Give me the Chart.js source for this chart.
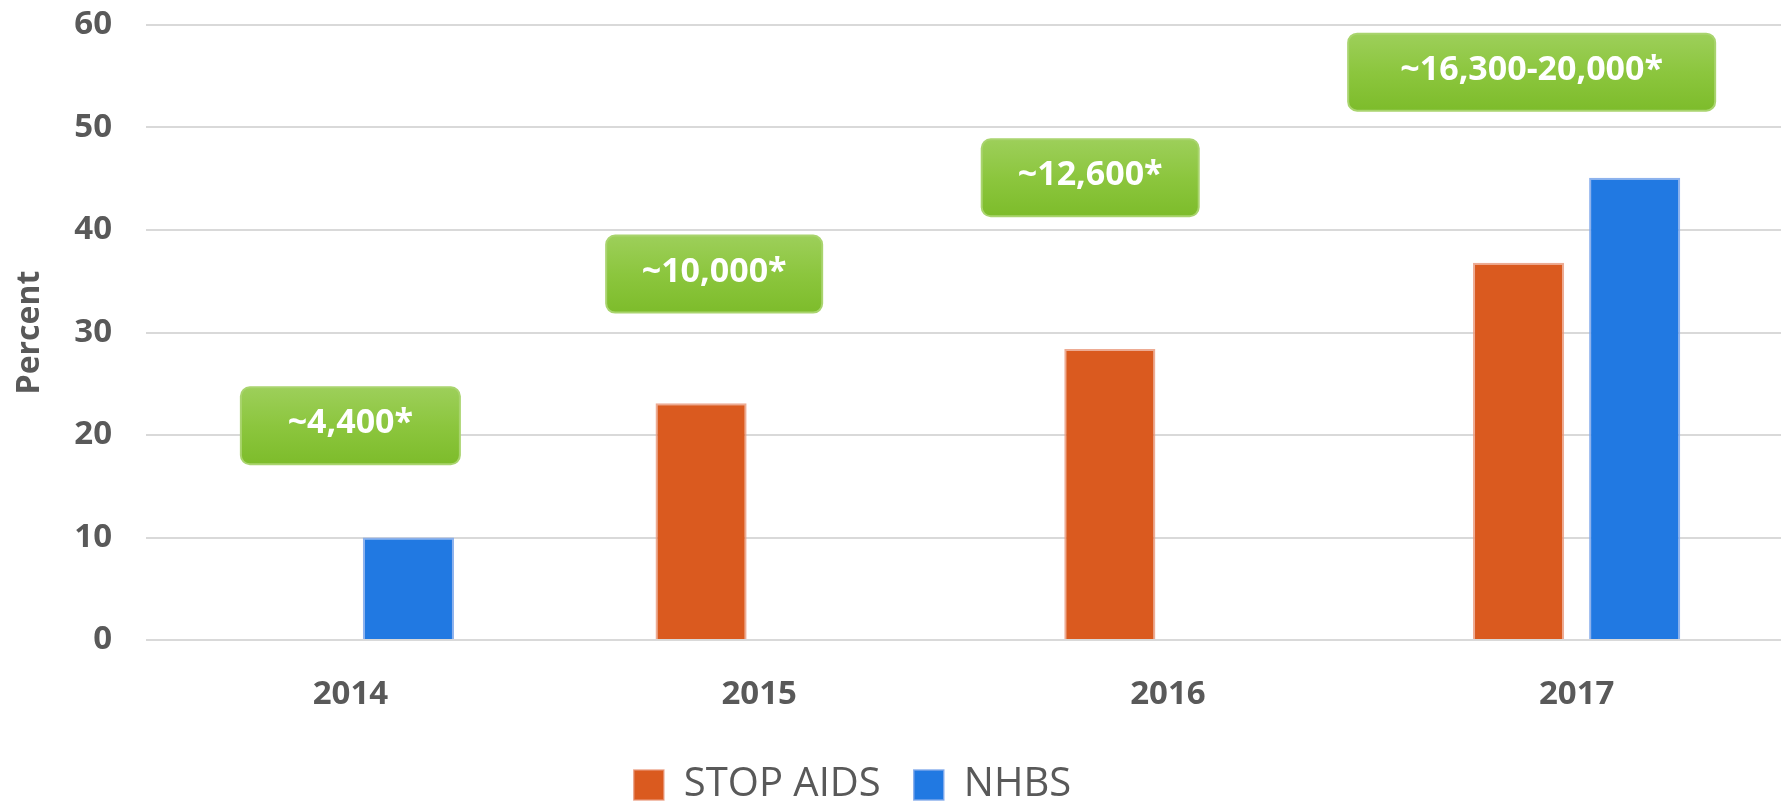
<!DOCTYPE html>
<html>
<head>
<meta charset="utf-8">
<script src="https://cdn.jsdelivr.net/npm/chart.js@4.4.1/dist/chart.umd.min.js"></script>
<style>
  html, body { margin: 0; padding: 0; background: #fff; }
  #wrap { width: 1788px; height: 801px; }
</style>
</head>
<body>
<div id="wrap"><canvas id="grafico"></canvas></div>
<script>
const anos = ['2014', '2015', '2016', '2017'];
const stopAids = [null, 23.1, 28.4, 36.8];
const nhbs = [10, null, null, 45.1];
const estimativas = ['~4,400*', '~10,000*', '~12,600*', '~16,300-20,000*'];
const eixoY = { min: 0, max: 60, passo: 10 };

const corTexto = '#595959';
const fonte = '"Open Sans", "DejaVu Sans", sans-serif';

// caixas verdes com as estimativas, ancoradas nas escalas do grafico
const caixasVerdes = {
  id: 'caixasVerdes',
  afterDraw(chart, args, opts) {
    const ctx = chart.ctx;
    const x = chart.scales.x, y = chart.scales.y;
    ctx.save();
    ctx.font = 'bold 34px ' + fonte;
    estimativas.forEach((texto, i) => {
      const cx = x.getPixelForValue(i + opts.deslocX[i]);
      const cy = y.getPixelForValue(opts.nivel[i]);
      const w = opts.larguras[i];
      const h = opts.altura;
      const left = cx - w / 2, top = cy - h / 2;
      const grad = ctx.createLinearGradient(0, top, 0, top + h);
      grad.addColorStop(0, '#9DCF5A');
      grad.addColorStop(0.5, '#8CC63E');
      grad.addColorStop(1, '#7DBC2B');
      ctx.beginPath();
      ctx.roundRect(left, top, w, h, 9);
      ctx.fillStyle = grad;
      ctx.fill();
      ctx.lineWidth = 2;
      ctx.strokeStyle = '#A9D46E';
      ctx.stroke();
      ctx.fillStyle = '#ffffff';
      ctx.textAlign = 'center';
      ctx.textBaseline = 'middle';
      ctx.fillText(texto, cx, cy - 2);
    });
    ctx.restore();
  }
};

// legenda mais baixa e um pouco para a esquerda
const ajusteLegenda = {
  id: 'ajusteLegenda',
  beforeInit(chart) {
    const fitOriginal = chart.legend.fit;
    chart.legend.fit = function () {
      fitOriginal.bind(chart.legend)();
      this.height = 69;
    };
  },
  afterLayout(chart) {
    chart.legend.left -= 38;
    chart.legend.right -= 38;
  }
};

const grafico = new Chart(document.getElementById('grafico'), {
  type: 'bar',
  data: {
    labels: anos,
    datasets: [{
      label: 'STOP AIDS',
      data: stopAids,
      backgroundColor: '#DA5A1F',
      borderColor: 'rgba(232,150,120,0.8)',
      borderWidth: { top: 2, left: 2, right: 2, bottom: 0 },
      borderSkipped: false
    }, {
      label: 'NHBS',
      data: nhbs,
      backgroundColor: '#2179E2',
      borderColor: 'rgba(130,170,235,0.9)',
      borderWidth: { top: 2, left: 2, right: 2, bottom: 0 },
      borderSkipped: false
    }]
  },
  options: {
    responsive: true,
    maintainAspectRatio: false,
    animation: false,
    datasets: {
      bar: { categoryPercentage: 0.568, barPercentage: 0.785 }
    },
    layout: { padding: { left: 0, right: 7, top: 25, bottom: 0 } },
    scales: {
      x: {
        grid: { display: false },
        border: { display: false },
        ticks: { color: corTexto, font: { family: fonte, size: 33, weight: 'bold' }, padding: 27 },
        afterFit: (s) => { s.height = 92; }
      },
      y: {
        min: eixoY.min,
        max: eixoY.max,
        ticks: { stepSize: eixoY.passo, color: corTexto, font: { family: fonte, size: 33, weight: 'bold' }, padding: 34 },
        grid: { color: '#D9D9D9', lineWidth: 2, drawTicks: false },
        border: { display: false },
        title: { display: true, text: 'Percent', color: corTexto, font: { family: fonte, size: 32, weight: 'bold' }, padding: { top: 11, bottom: 0 } },
        afterFit: (s) => { s.width = 146; s.paddingTop = 0; s.paddingBottom = 0; }
      }
    },
    plugins: {
      legend: {
        position: 'bottom',
        labels: {
          color: corTexto,
          font: { family: fonte, size: 40 },
          boxWidth: 30,
          boxHeight: 30,
          padding: 33
        }
      },
      tooltip: { enabled: false },
      caixasVerdes: {
        deslocX: [0, -0.11, -0.19, -0.11],
        nivel: [20.9, 35.7, 45.1, 55.4],
        larguras: [219, 216, 217, 367],
        altura: 77
      }
    }
  },
  plugins: [caixasVerdes, ajusteLegenda]
});
</script>
</body>
</html>
